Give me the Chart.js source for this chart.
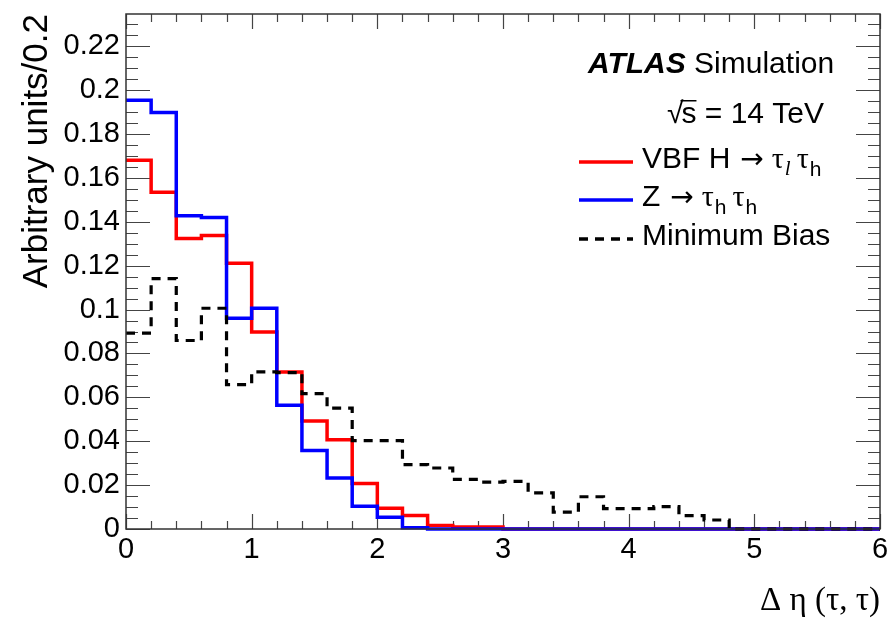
<!DOCTYPE html>
<html>
<head>
<meta charset="utf-8">
<script src="https://cdn.jsdelivr.net/npm/chart.js@4.4.0/dist/chart.umd.min.js"></script>
<style>
    html, body { margin: 0; padding: 0; background: #ffffff; }
</style>
</head>
<body>
<canvas id="detaChart" width="895" height="621"></canvas>
<script>
// bin edges of the Delta eta histogram (30 bins of 0.2)
const binEdges = [0, 0.2, 0.4, 0.6, 0.8, 1.0, 1.2, 1.4, 1.6, 1.8, 2.0, 2.2, 2.4, 2.6, 2.8, 3.0,
                  3.2, 3.4, 3.6, 3.8, 4.0, 4.2, 4.4, 4.6, 4.8, 5.0, 5.2, 5.4, 5.6, 5.8, 6.0];

// VBF H -> tau_l tau_h (red)
const vbfH = [0.168, 0.1535, 0.1324, 0.1337, 0.1211, 0.0898, 0.0715, 0.0492, 0.0407, 0.0207,
              0.0095, 0.0061, 0.0016, 0.0009, 0.0009, 0, 0, 0, 0, 0,
              0, 0, 0, 0, 0, 0, 0, 0, 0, 0];

// Z -> tau_h tau_h (blue)
const zTauTau = [0.1954, 0.1898, 0.1427, 0.1420, 0.0960, 0.1006, 0.0564, 0.0358, 0.0232, 0.0104,
                 0.0053, 0.0006, 0, 0, 0, 0, 0, 0, 0, 0,
                 0, 0, 0, 0, 0, 0, 0, 0, 0, 0];

// Minimum Bias (black dashed)
const minBias = [0.0893, 0.1141, 0.0859, 0.1006, 0.0658, 0.0716, 0.0713, 0.0617, 0.0551, 0.0403,
                 0.0403, 0.0293, 0.0278, 0.0226, 0.0214, 0.0217, 0.0165, 0.0077, 0.0147, 0.0093,
                 0.0093, 0.0102, 0.0061, 0.0041, 0, 0, 0, 0, 0, 0];

const xTickValues = [0, 1, 2, 3, 4, 5, 6];
const yTickValues = [0, 0.02, 0.04, 0.06, 0.08, 0.1, 0.12, 0.14, 0.16, 0.18, 0.2, 0.22];

const SANS = '"Liberation Sans", Arial, sans-serif';
const SERIF = '"Liberation Serif", "Times New Roman", serif';

// one point per bin edge, the last edge repeats the last bin
function histPoints(vals) {
    return binEdges.map((e, i) => ({ x: e, y: vals[Math.min(i, vals.length - 1)] }));
}

// ROOT style inward ticks on all four sides + frame
const frameTicks = {
    id: 'frameTicks',
    beforeDatasetsDraw(chart) {
        const { ctx, chartArea: a, scales: { x, y } } = chart;
        ctx.save();
        ctx.strokeStyle = '#444';
        ctx.lineWidth = 1.2;
        ctx.beginPath();
        for (let k = 0; k * 0.005 <= y.max + 1e-9; k++) {
            const py = Math.round(y.getPixelForValue(k * 0.005)) + 0.5;
            const len = k % 4 === 0 ? 24 : 12;
            ctx.moveTo(a.left, py);  ctx.lineTo(a.left + len, py);
            ctx.moveTo(a.right, py); ctx.lineTo(a.right - len, py);
        }
        for (let k = 0; k <= 30; k++) {
            const px = Math.round(x.getPixelForValue(k * 0.2)) + 0.5;
            const len = k % 5 === 0 ? 15 : 8;
            ctx.moveTo(px, a.bottom); ctx.lineTo(px, a.bottom - len);
            ctx.moveTo(px, a.top);    ctx.lineTo(px, a.top + len);
        }
        ctx.stroke();
        ctx.restore();
    },
    afterDatasetsDraw(chart) {
        const { ctx, chartArea: a } = chart;
        ctx.save();
        ctx.strokeStyle = '#333';
        ctx.lineWidth = 1.5;
        ctx.strokeRect(a.left, a.top, a.right - a.left, a.bottom - a.top);
        ctx.restore();
    }
};

function drawRuns(ctx, x, y, runs) {
    runs.forEach(r => {
        ctx.font = r.font;
        x += r.pre || 0;
        ctx.fillText(r.t, x, y + (r.dy || 0));
        x += ctx.measureText(r.t).width;
    });
    return x;
}

const annotations = {
    id: 'annotations',
    afterDraw(chart) {
        const ctx = chart.ctx;
        ctx.save();
        ctx.fillStyle = '#000';
        ctx.textBaseline = 'alphabetic';
        ctx.textAlign = 'left';

        // ATLAS Simulation
        drawRuns(ctx, 588, 73, [
            { t: 'ATLAS', font: 'italic bold 30px ' + SANS },
            { t: ' Simulation', font: '30px ' + SANS }
        ]);

        // sqrt(s) = 14 TeV
        ctx.font = '30px ' + SANS;
        let sx = 667;
        ctx.fillText('\u221A', sx, 123);
        sx += ctx.measureText('\u221A').width - 2;
        ctx.fillText('s', sx, 123);
        const sw = ctx.measureText('s').width;
        ctx.fillRect(sx - 1, 100, sw + 1, 1.5);
        ctx.fillText(' = 14 TeV', sx + sw, 123);

        // legend
        const entries = [
            { y: 162, color: '#ff0000', dash: [], runs: [
                { t: 'VBF H', font: '30px ' + SANS },
                { t: '\u2192', font: '28px "DejaVu Sans"', pre: 10 },
                { t: '\u03C4', font: '30px ' + SERIF, pre: 8 },
                { t: 'l', font: 'italic 21px ' + SERIF, dy: 7, pre: 1 },
                { t: '\u03C4', font: '30px ' + SERIF, pre: 6 },
                { t: 'h', font: '21px ' + SANS, dy: 8, pre: 1 }
            ] },
            { y: 200, color: '#0000ff', dash: [], runs: [
                { t: 'Z', font: '30px ' + SANS },
                { t: '\u2192', font: '28px "DejaVu Sans"', pre: 10 },
                { t: '\u03C4', font: '30px ' + SERIF, pre: 8 },
                { t: 'h', font: '21px ' + SANS, dy: 8, pre: 1 },
                { t: '\u03C4', font: '30px ' + SERIF, pre: 6 },
                { t: 'h', font: '21px ' + SANS, dy: 8, pre: 1 }
            ] },
            { y: 239, color: '#000000', dash: [9, 7], runs: [
                { t: 'Minimum Bias', font: '30px ' + SANS }
            ] }
        ];
        entries.forEach(e => {
            ctx.save();
            ctx.strokeStyle = e.color;
            ctx.lineWidth = 3.5;
            ctx.setLineDash(e.dash);
            ctx.beginPath();
            ctx.moveTo(579, e.y);
            ctx.lineTo(633, e.y);
            ctx.stroke();
            ctx.restore();
            drawRuns(ctx, 642, e.y + 6, e.runs);
        });
        ctx.restore();
    }
};

const ctx = document.getElementById('detaChart').getContext('2d');
const detaChart = new Chart(ctx, {
    type: 'line',
    data: {
        datasets: [
            {
                label: 'VBF H \u2192 \u03C4l \u03C4h',
                data: histPoints(vbfH),
                borderColor: '#ff0000',
                borderWidth: 3.5,
                stepped: 'before',
                order: 3
            },
            {
                label: 'Z \u2192 \u03C4h \u03C4h',
                data: histPoints(zTauTau),
                borderColor: '#0000ff',
                borderWidth: 3.5,
                stepped: 'before',
                order: 2
            },
            {
                label: 'Minimum Bias',
                data: histPoints(minBias),
                borderColor: '#000000',
                borderWidth: 3.2,
                borderDash: [9, 7],
                stepped: 'before',
                order: 1
            }
        ]
    },
    options: {
        responsive: false,
        animation: false,
        devicePixelRatio: 1,
        clip: 6,
        elements: { point: { radius: 0 }, line: { tension: 0 } },
        layout: { padding: { top: 14, right: 15, left: 0, bottom: 0 } },
        plugins: {
            legend: { display: false },
            tooltip: { enabled: false }
        },
        scales: {
            x: {
                type: 'linear',
                min: 0,
                max: 6,
                grid: { display: false, drawTicks: false },
                border: { display: false },
                afterFit: s => { s.height = 92; s.paddingLeft = 0; s.paddingRight = 0; },
                afterBuildTicks: s => { s.ticks = xTickValues.map(v => ({ value: v })); },
                ticks: {
                    padding: 4,
                    color: '#000',
                    font: { family: SANS, size: 29 },
                    maxRotation: 0,
                    autoSkip: false,
                    callback: v => String(v)
                },
                title: {
                    display: true,
                    text: '\u0394 \u03B7 (\u03C4, \u03C4)',
                    align: 'end',
                    color: '#000',
                    font: { family: SERIF, size: 33 },
                    padding: { top: 0, bottom: 0 }
                }
            },
            y: {
                type: 'linear',
                min: 0,
                max: 0.2347,
                grid: { display: false, drawTicks: false },
                border: { display: false },
                afterFit: s => { s.width = 126; s.paddingTop = 0; s.paddingBottom = 0; },
                afterBuildTicks: s => { s.ticks = yTickValues.map(v => ({ value: v })); },
                ticks: {
                    padding: 6,
                    color: '#000',
                    font: { family: SANS, size: 29 },
                    autoSkip: false,
                    callback: v => String(+v.toFixed(3))
                },
                title: {
                    display: true,
                    text: 'Arbitrary units/0.2',
                    align: 'end',
                    color: '#000',
                    font: { family: SANS, size: 35 },
                    padding: { top: 16, bottom: 0 }
                }
            }
        }
    },
    plugins: [frameTicks, annotations]
});
</script>
</body>
</html>
